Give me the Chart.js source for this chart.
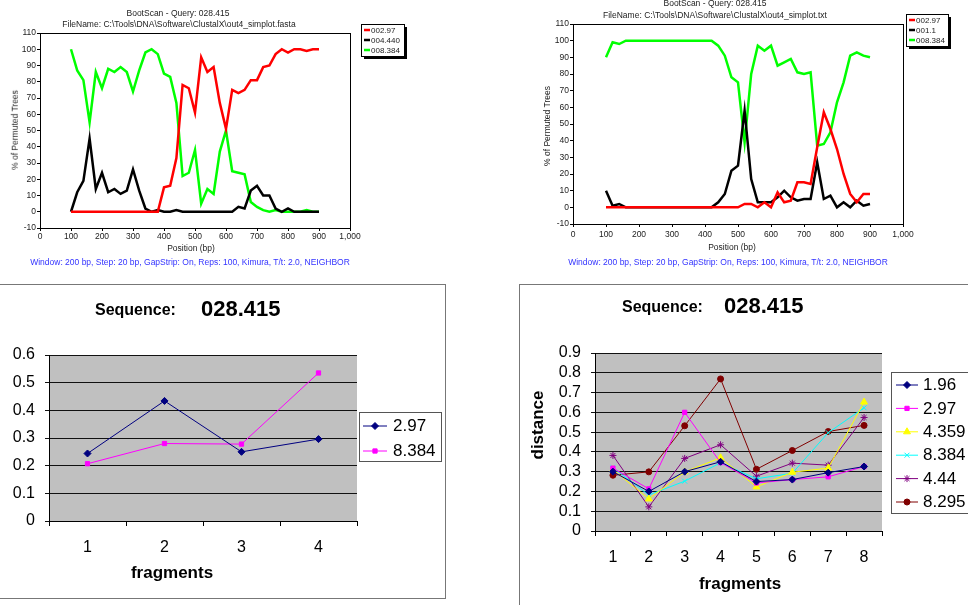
<!DOCTYPE html>
<html>
<head>
<meta charset="utf-8">
<script src="https://cdn.jsdelivr.net/npm/chart.js@4/dist/chart.umd.min.js"></script>
<style>
body{margin:0;width:968px;height:605px;position:relative;background:#fff;overflow:hidden;font-family:"Liberation Sans",Arial,sans-serif}
canvas{position:absolute;left:0;top:0}
.t{position:absolute;white-space:nowrap;transform:translate(-50%,-50%);line-height:1}
.l{position:absolute;white-space:nowrap;transform:translateY(-50%);line-height:1;font-weight:bold;color:#000}
.s{font-size:8.5px;color:#222}
.r{transform:translate(-50%,-50%) rotate(-90deg)}
.b{font-weight:bold;font-size:17px;color:#000}
.foot{font-size:8.5px;color:#3333ff}
.panel{position:absolute;border:1px solid #777}
</style>
</head>
<body>
<div class="panel" style="left:-1px;top:284px;width:445px;height:313px"></div>
<div class="panel" style="left:519px;top:284px;width:470px;height:340px"></div>

<canvas id="tl" width="968" height="605"></canvas>
<canvas id="tr" width="968" height="605"></canvas>
<canvas id="bl" width="968" height="605"></canvas>
<canvas id="br" width="968" height="605"></canvas>

<div class="t s" style="left:178px;top:13px">BootScan - Query: 028.415</div>
<div class="t s" style="left:179px;top:24px">FileName: C:\Tools\DNA\Software\ClustalX\out4_simplot.fasta</div>
<div class="t s r" style="left:15px;top:130px">% of Permuted Trees</div>
<div class="t s" style="left:191px;top:248px">Position (bp)</div>
<div class="t foot" style="left:190px;top:262px">Window: 200 bp, Step: 20 bp, GapStrip: On, Reps: 100, Kimura, T/t: 2.0, NEIGHBOR</div>

<div class="t s" style="left:715px;top:3px">BootScan - Query: 028.415</div>
<div class="t s" style="left:715px;top:15px">FileName: C:\Tools\DNA\Software\ClustalX\out4_simplot.txt</div>
<div class="t s r" style="left:547px;top:126px">% of Permuted Trees</div>
<div class="t s" style="left:732px;top:247px">Position (bp)</div>
<div class="t foot" style="left:728px;top:262px">Window: 200 bp, Step: 20 bp, GapStrip: On, Reps: 100, Kimura, T/t: 2.0, NEIGHBOR</div>

<div class="l" style="left:95px;top:310px;font-size:16px">Sequence:</div>
<div class="l" style="left:201px;top:309px;font-size:22px">028.415</div>
<div class="t b" style="left:172px;top:572px">fragments</div>

<div class="l" style="left:622px;top:307px;font-size:16px">Sequence:</div>
<div class="l" style="left:724px;top:306px;font-size:22px">028.415</div>
<div class="t b" style="left:740px;top:583px">fragments</div>
<div class="t b r" style="left:537px;top:425px">distance</div>

<script>
// BootScan positions (bp)
const positions = [100,120,140,160,180,200,220,240,260,280,300,320,340,360,380,400,420,440,460,480,500,520,540,560,580,600,620,640,660,680,700,720,740,760,780,800,820,840,860,880,900];

// top left bootscan (.fasta)
const tlNames = ['002.97', '004.440', '008.384'];
const tlRed   = [0,0,0,0,0,0,0,0,0,0,0,0,0,0,0,15,16,33,78,76,61,95,86,89,67,51,75,73,75,81,81,89,90,97,100,98,100,100,99,100,100];
const tlBlack = [0,12,19,45,14,24,12,14,11,13,26,13,2,0,1,0,0,1,0,0,0,0,0,0,0,0,0,3,2,13,16,10,10,2,0,2,0,0,0,0,0];
const tlGreen = [100,87,81,55,86,76,88,86,89,86,74,87,98,100,97,85,83,67,22,24,38,5,14,11,37,50,25,24,23,6,3,1,0,1,0,0,0,0,1,0,0];

// top right bootscan (.txt)
const trNames = ['002.97', '001.1', '008.384'];
const trRed   = [0,0,0,0,0,0,0,0,0,0,0,0,0,0,0,0,0,0,0,0,0,2,2,0,3,0,9,3,4,15,15,14,36,57,47,35,20,8,3,8,8];
const trBlack = [10,1,2,0,0,0,0,0,0,0,0,0,0,0,0,0,0,3,8,22,25,58,17,3,3,3,6,10,6,4,5,5,27,5,7,0,3,0,4,1,2];
const trGreen = [90,99,98,100,100,100,100,100,100,100,100,100,100,100,100,100,100,97,91,78,75,39,80,97,94,97,85,87,89,81,80,81,37,38,45,63,75,91,93,91,90];

// bottom left distances
const blFragments = ['1', '2', '3', '4'];
const blNames = ['2.97', '8.384'];
const bl297  = [0.244, 0.434, 0.250, 0.296];
const bl8384 = [0.207, 0.280, 0.278, 0.535];

// bottom right distances
const brFragments = ['1', '2', '3', '4', '5', '6', '7', '8'];
const brNames = ['1.96', '2.97', '4.359', '8.384', '4.44', '8.295'];
const br196  = [0.30, 0.20, 0.30, 0.35, 0.25, 0.26, 0.295, 0.326];
const br297  = [0.318, 0.213, 0.600, 0.346, 0.243, 0.260, 0.274, 0.326];
const br4359 = [0.31, 0.162, 0.299, 0.370, 0.223, 0.297, 0.318, 0.652];
const br8384 = [0.32, 0.182, 0.252, 0.345, 0.264, 0.292, 0.497, 0.623];
const br444  = [0.382, 0.122, 0.367, 0.436, 0.277, 0.343, 0.333, 0.574];
const br8295 = [0.282, 0.299, 0.532, 0.769, 0.312, 0.407, 0.503, 0.534];

Chart.defaults.font.family = '"Liberation Sans", Arial, sans-serif';
Chart.defaults.color = '#000';

const W = 968, H = 605;

function pad(area, yW, xH) {
  return {left: area.l - yW, top: area.t, right: W - area.r, bottom: H - area.b - xH};
}

// plot box: optional grey fill behind, optional black frame on top
function framePlugin(fill, stroke) {
  return {
    id: 'frame',
    beforeDraw(chart) {
      if (!fill) return;
      const a = chart.chartArea, ctx = chart.ctx;
      ctx.save();
      ctx.fillStyle = fill;
      ctx.fillRect(a.left, a.top, a.right - a.left, a.bottom - a.top);
      ctx.restore();
    },
    afterDraw(chart) {
      if (!stroke) return;
      const a = chart.chartArea, ctx = chart.ctx;
      ctx.save();
      ctx.strokeStyle = stroke;
      ctx.lineWidth = 1;
      ctx.strokeRect(Math.round(a.left) + 0.5, Math.round(a.top) + 0.5, Math.round(a.right - a.left), Math.round(a.bottom - a.top));
      ctx.restore();
    }
  };
}

// excel / simplot style legend box
function legendPlugin(o) {
  return {
    id: 'boxLegend',
    afterDraw(chart) {
      const ctx = chart.ctx;
      ctx.save();
      if (o.shadow) {
        ctx.fillStyle = '#000';
        ctx.fillRect(o.x + o.shadow, o.y + o.shadow, o.w, o.h);
      }
      ctx.fillStyle = '#fff';
      ctx.fillRect(o.x, o.y, o.w, o.h);
      ctx.strokeStyle = o.border;
      ctx.lineWidth = 1;
      ctx.strokeRect(o.x + 0.5, o.y + 0.5, o.w, o.h);
      ctx.font = o.font;
      ctx.textBaseline = 'middle';
      ctx.textAlign = 'left';
      chart.data.datasets.forEach((ds, i) => {
        const y = o.rowY + i * o.rowH;
        ctx.strokeStyle = ds.borderColor;
        ctx.fillStyle = ds.borderColor;
        ctx.lineWidth = o.lineW;
        ctx.beginPath();
        ctx.moveTo(o.lineX, y);
        ctx.lineTo(o.lineX + o.lineLen, y);
        ctx.stroke();
        if (o.markers && Chart.helpers && Chart.helpers.drawPoint) {
          ctx.lineWidth = 1;
          Chart.helpers.drawPoint(ctx, {pointStyle: ds.pointStyle, radius: ds.pointRadius, borderWidth: 1, rotation: 0}, o.lineX + o.lineLen / 2, y);
        }
        ctx.fillStyle = o.color;
        ctx.fillText(ds.label, o.textX, y + 0.5);
      });
      ctx.restore();
    }
  };
}

function bootChart(id, area, names, series, legend, xPad) {
  const colors = ['#ff0000', '#000000', '#00ff00'];
  new Chart(document.getElementById(id), {
    type: 'line',
    data: {
      labels: positions,
      datasets: series.map((d, i) => ({
        label: names[i], data: d,
        borderColor: colors[i], backgroundColor: colors[i],
        borderWidth: 2.5, pointRadius: 0, tension: 0
      }))
    },
    options: {
      responsive: false,
      animation: false,
      layout: {padding: pad(area, 30, 20)},
      plugins: {legend: {display: false}, tooltip: {enabled: false}},
      scales: {
        x: {
          type: 'linear', min: 0, max: 1000,
          afterFit: s => { s.height = 20; },
          ticks: {stepSize: 100, autoSkip: false, maxRotation: 0, padding: xPad, color: '#222', font: {size: 8.5}},
          grid: {drawOnChartArea: false, tickLength: 3, color: '#000'},
          border: {color: '#000'}
        },
        y: {
          min: -10, max: 110,
          afterFit: s => { s.width = 30; },
          ticks: {stepSize: 10, autoSkip: false, padding: 1, color: '#222', font: {size: 8.5}},
          grid: {drawOnChartArea: false, tickLength: 3, color: '#000'},
          border: {color: '#000'}
        }
      }
    },
    plugins: [framePlugin(null, '#000'), legendPlugin(legend)]
  });
}

function seqChart(id, area, labels, yMax, names, series, colors, shapes, sizes, legend) {
  new Chart(document.getElementById(id), {
    type: 'line',
    data: {
      labels: labels,
      datasets: series.map((d, i) => ({
        label: names[i], data: d,
        borderColor: colors[i], backgroundColor: colors[i],
        borderWidth: 1, tension: 0,
        pointStyle: shapes[i], pointRadius: sizes[i], pointBorderWidth: 1
      }))
    },
    options: {
      responsive: false,
      animation: false,
      layout: {padding: pad(area, 50, 40)},
      plugins: {legend: {display: false}, tooltip: {enabled: false}},
      scales: {
        x: {
          type: 'category', offset: true,
          afterFit: s => { s.height = 40; },
          ticks: {padding: 12, autoSkip: false, color: '#000', font: {size: 16}},
          grid: {offset: true, drawOnChartArea: false, tickLength: 5, color: '#000'},
          border: {color: '#000'}
        },
        y: {
          min: 0, max: yMax,
          afterFit: s => { s.width = 50; },
          ticks: {stepSize: 0.1, autoSkip: false, padding: 10, color: '#000', font: {size: 16}},
          grid: {color: '#111', tickLength: 4},
          border: {color: '#000'}
        }
      }
    },
    plugins: [framePlugin('#c0c0c0', null), legendPlugin(legend)]
  });
}

bootChart('tl', {l: 40, t: 33, r: 350, b: 228}, tlNames, [tlRed, tlBlack, tlGreen],
  {x: 361, y: 24, w: 43, h: 32, shadow: 3, border: '#000', font: '8px "Liberation Sans", Arial', color: '#222',
   rowY: 30, rowH: 10, lineX: 364, lineLen: 6, lineW: 2.5, textX: 371, markers: false}, 1);

bootChart('tr', {l: 573, t: 24, r: 903, b: 224}, trNames, [trRed, trBlack, trGreen],
  {x: 906, y: 14, w: 42, h: 32, shadow: 3, border: '#000', font: '8px "Liberation Sans", Arial', color: '#222',
   rowY: 20, rowH: 10, lineX: 909, lineLen: 6, lineW: 2.5, textX: 916, markers: false}, 3);

seqChart('bl', {l: 49, t: 355, r: 357, b: 521}, blFragments, 0.6, blNames, [bl297, bl8384],
  ['#000080', '#ff00ff'], ['rectRot', 'rect'], [3.5, 3],
  {x: 359, y: 412, w: 82, h: 49, shadow: 0, border: '#555', font: '17px "Liberation Sans", Arial', color: '#000',
   rowY: 426, rowH: 25, lineX: 363, lineLen: 24, lineW: 1, textX: 393, markers: true});

seqChart('br', {l: 595, t: 353, r: 882, b: 531}, brFragments, 0.9, brNames,
  [br196, br297, br4359, br8384, br444, br8295],
  ['#000080', '#ff00ff', '#ffff00', '#00ffff', '#800080', '#800000'],
  ['rectRot', 'rect', 'triangle', 'crossRot', 'star', 'circle'], [3.5, 3, 4, 3.5, 3.5, 3],
  {x: 891, y: 372, w: 90, h: 141, shadow: 0, border: '#555', font: '17px "Liberation Sans", Arial', color: '#000',
   rowY: 385, rowH: 23.4, lineX: 896, lineLen: 22, lineW: 1, textX: 923, markers: true});
</script>
</body>
</html>
